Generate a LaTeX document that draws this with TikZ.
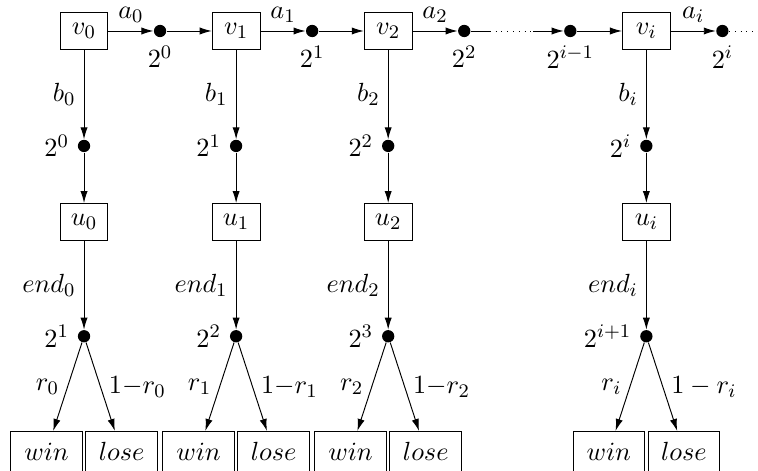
\documentclass[tikz,border=0pt]{standalone}
\usetikzlibrary{arrows.meta,positioning}

\begin{document}
\begin{tikzpicture}[>={Latex[length=5pt,width=3pt]},node distance=6.6mm,
    font=\fontsize{11}{13}\selectfont,
    state/.style={draw,minimum width=7mm,minimum height=5.4mm,inner sep=2pt},
    pt/.style={circle,fill,inner sep=0pt,minimum size=1.8mm},
    leaf/.style={draw,minimum width=10.5mm,minimum height=5.9mm,inner sep=2pt}]
    \useasboundingbox (-1.231,0.454) rectangle (9.874,-6.446);
    % top row
    \node[state] (v0) at (0,0) {$v_0$};
    \node[pt,right=of v0,label=below:$2^0$] (a0) {};
    \node[state,right=of a0] (v1) {$v_1$};
    \node[pt,right=of v1,label=below:$2^1$] (a1) {};
    \node[state,right=of a1] (v2) {$v_2$};
    \node[pt,right=of v2,label=below:$2^2$] (a2) {};
    \node[pt,right=13.6mm of a2,label=below:$2^{i-1}$] (ap) {};
    \node[state,right=of ap] (vi) {$v_i$};
    \node[pt,right=of vi,label=below:$2^i$] (ai) {};
    \draw[->] (v0)--node[above]{$a_0$}(a0);
    \draw[->] (a0)--(v1);
    \draw[->] (v1)--node[above]{$a_1$}(a1);
    \draw[->] (a1)--(v2);
    \draw[->] (v2)--node[above]{$a_2$}(a2);
    \draw (a2.east)--++(2.8mm,0) coordinate (gap1);
    \draw[dotted] (gap1)--++(6.3mm,0) coordinate (gap2);
    \draw[->] (gap2)--(ap);
    \draw[->] (ap)--(vi);
    \draw[->] (vi)--node[above]{$a_i$}(ai);
    \draw[dotted] (ai.east)--++(4.7mm,0) coordinate (gap3);

    % column 0
    \node[pt,below=13.1mm of v0,label=left:$2^0$] (b0) {};
    \node[state,below=7.4mm of b0] (u0) {$u_0$};
    \node[pt,below=13mm of u0,label=left:$2^1$] (e0) {};
    \node[leaf,below=12.9mm of e0,xshift=-5.5mm] (w0) {$win$};
    \node[leaf,below=12.9mm of e0,xshift=5.5mm] (l0) {$lose$};
    \draw[->] (v0)--node[left]{$b_0$}(b0);
    \draw[->] (b0)--(u0);
    \draw[->] (u0)--node[left]{$end_0$}(e0);
    \draw[->] (e0)--node[left]{$r_0$}(w0);
    \draw[->] (e0)--node[right]{$1{-}r_0$}(l0);

    % column 1
    \node[pt,below=13.1mm of v1,label=left:$2^1$] (b1) {};
    \node[state,below=7.4mm of b1] (u1) {$u_1$};
    \node[pt,below=13mm of u1,label=left:$2^2$] (e1) {};
    \node[leaf,below=12.9mm of e1,xshift=-5.5mm] (w1) {$win$};
    \node[leaf,below=12.9mm of e1,xshift=5.5mm] (l1) {$lose$};
    \draw[->] (v1)--node[left]{$b_1$}(b1);
    \draw[->] (b1)--(u1);
    \draw[->] (u1)--node[left]{$end_1$}(e1);
    \draw[->] (e1)--node[left]{$r_1$}(w1);
    \draw[->] (e1)--node[right]{$1{-}r_1$}(l1);

    % column 2
    \node[pt,below=13.1mm of v2,label=left:$2^2$] (b2) {};
    \node[state,below=7.4mm of b2] (u2) {$u_2$};
    \node[pt,below=13mm of u2,label=left:$2^3$] (e2) {};
    \node[leaf,below=12.9mm of e2,xshift=-5.5mm] (w2) {$win$};
    \node[leaf,below=12.9mm of e2,xshift=5.5mm] (l2) {$lose$};
    \draw[->] (v2)--node[left]{$b_2$}(b2);
    \draw[->] (b2)--(u2);
    \draw[->] (u2)--node[left]{$end_2$}(e2);
    \draw[->] (e2)--node[left]{$r_2$}(w2);
    \draw[->] (e2)--node[right]{$1{-}r_2$}(l2);

    % column i
    \node[pt,below=13.1mm of vi,label=left:$2^i$] (bi) {};
    \node[state,below=7.4mm of bi] (ui) {$u_i$};
    \node[pt,below=13mm of ui,label=left:$2^{i+1}$] (ei) {};
    \node[leaf,below=12.9mm of ei,xshift=-5.5mm] (wi) {$win$};
    \node[leaf,below=12.9mm of ei,xshift=5.5mm] (li) {$lose$};
    \draw[->] (vi)--node[left]{$b_i$}(bi);
    \draw[->] (bi)--(ui);
    \draw[->] (ui)--node[left]{$end_i$}(ei);
    \draw[->] (ei)--node[left]{$r_i$}(wi);
    \draw[->] (ei)--node[right]{$1-r_i$}(li);
\end{tikzpicture}
\end{document}
